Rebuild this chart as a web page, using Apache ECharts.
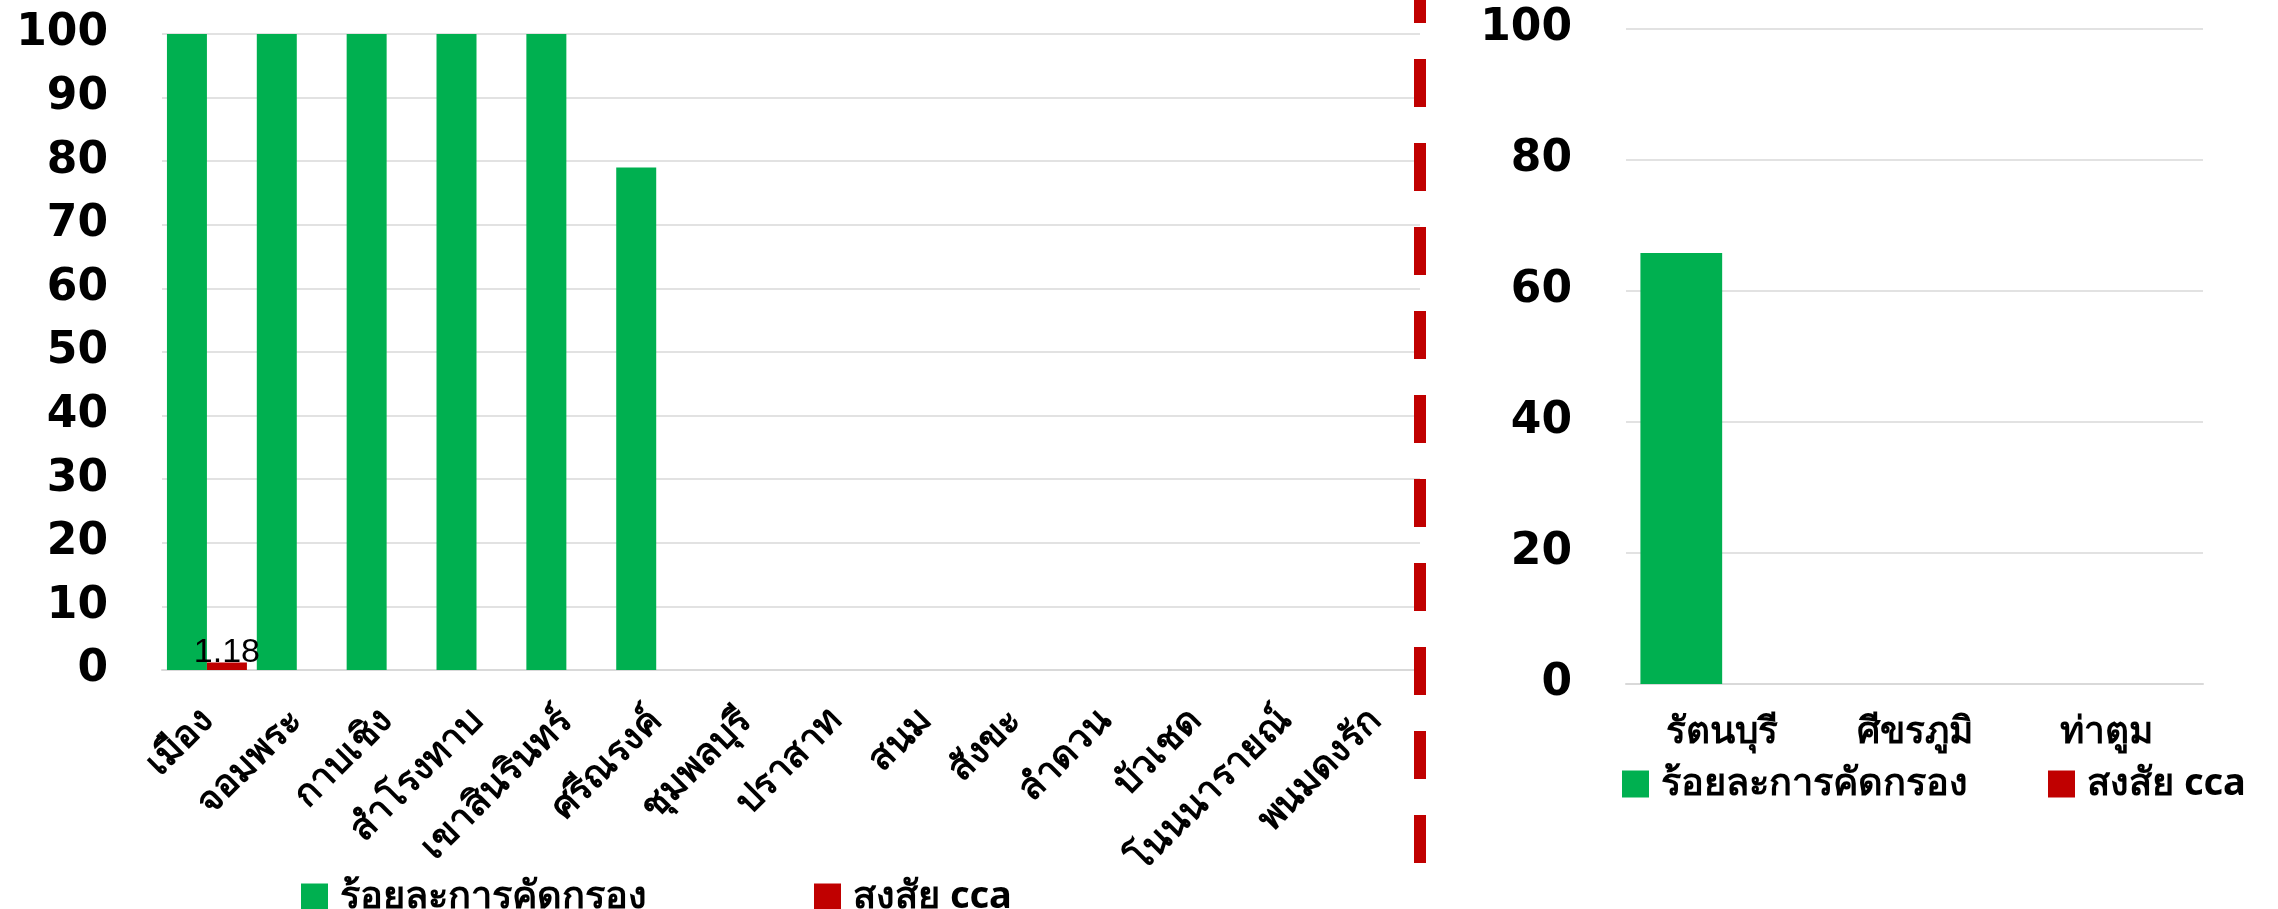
<!DOCTYPE html>
<html>
<head>
<meta charset="utf-8">
<script src="https://cdn.jsdelivr.net/npm/echarts@6/dist/echarts.min.js"></script>
<style>
html,body{margin:0;padding:0;background:#fff;}
#main{width:2278px;height:909px;}
</style>
</head>
<body>
<div id="main"></div>
<script>
// ---- data ----
const leftCategories = ['เมือง','จอมพระ','กาบเชิง','สำโรงทาบ','เขาสินรินทร์','ศรีณรงค์','ชุมพลบุรี','ปราสาท','สนม','สังขะ','ลำดวน','บัวเชด','โนนนารายณ์','พนมดงรัก'];
const leftScreening = [100,100,100,100,100,79,null,null,null,null,null,null,null,null];
const leftSuspectCCA = [1.18,null,null,null,null,null,null,null,null,null,null,null,null,null];
const rightCategories = ['รัตนบุรี','ศีขรภูมิ','ท่าตูม'];
const rightScreening = [65.8,null,null];
const rightSuspectCCA = [null,null,null];
const seriesNames = ['ร้อยละการคัดกรอง','สงสัย cca'];
const leftTicks = [0,10,20,30,40,50,60,70,80,90,100];
const rightTicks = [0,20,40,60,80,100];

const GREEN = '#00B050', RED = '#C00000';
const numFont = {fontFamily:'DejaVu Sans', fontWeight:'bold', fontSize:44, color:'#000'};
const catFont = {fontFamily:'Noto Sans, DejaVu Sans, sans-serif', fontWeight:'bold', fontSize:37, color:'#000'};
const legFont = {fontFamily:'Noto Sans, DejaVu Sans, sans-serif', fontWeight:'bold', fontSize:38, color:'#000'};

const chart = echarts.init(document.getElementById('main'), null, {renderer:'canvas'});
chart.setOption({
  animation:false,
  backgroundColor:'#fff',
  color:[GREEN, RED],
  grid:[
    {left:162, right:858, top:34, bottom:239, containLabel:false},
    {left:1626, right:75, top:29, bottom:225, containLabel:false}
  ],
  xAxis:[
    {type:'category', gridIndex:0, data:leftCategories,
     axisLine:{lineStyle:{color:'#D9D9D9', width:2}}, axisTick:{show:false},
     axisLabel:Object.assign({rotate:45, interval:0, margin:45}, catFont)},
    {type:'category', gridIndex:1, data:rightCategories,
     axisLine:{lineStyle:{color:'#D9D9D9', width:2}}, axisTick:{show:false},
     axisLabel:Object.assign({interval:0, margin:30}, catFont)}
  ],
  yAxis:[
    {type:'value', gridIndex:0, min:leftTicks[0], max:leftTicks[leftTicks.length-1], interval:leftTicks[1]-leftTicks[0],
     axisLine:{show:false}, axisTick:{show:false},
     splitLine:{lineStyle:{color:'#D9D9D9', width:1.5}},
     axisLabel:Object.assign({margin:54, padding:[0,0,18,0]}, numFont)},
    {type:'value', gridIndex:1, min:rightTicks[0], max:rightTicks[rightTicks.length-1], interval:rightTicks[1]-rightTicks[0],
     axisLine:{show:false}, axisTick:{show:false},
     splitLine:{lineStyle:{color:'#D9D9D9', width:1.5}},
     axisLabel:Object.assign({margin:54, padding:[0,0,14,0]}, numFont)}
  ],
  legend:[
    {left:296, top:873, itemWidth:27, itemHeight:27, itemGap:167, icon:'rect',
     data:seriesNames, textStyle:Object.assign({padding:[0,0,0,7]}, legFont)},
    {left:1617, top:760, itemWidth:27, itemHeight:27, itemGap:80, icon:'rect',
     data:seriesNames, textStyle:Object.assign({padding:[0,0,0,7]}, legFont)}
  ],
  series:[
    {name:seriesNames[0], type:'bar', xAxisIndex:0, yAxisIndex:0, data:leftScreening,
     barGap:'0%', barCategoryGap:'11%', itemStyle:{color:GREEN}},
    {name:seriesNames[1], type:'bar', xAxisIndex:0, yAxisIndex:0, data:leftSuspectCCA,
     barGap:'0%', barCategoryGap:'11%', itemStyle:{color:RED},
     label:{show:true, position:'top', distance:-7, fontFamily:'Liberation Sans', fontSize:34, color:'#000',
            formatter:p => (p.value ? String(p.value) : '')}},
    {name:seriesNames[0], type:'bar', xAxisIndex:1, yAxisIndex:1, data:rightScreening,
     barGap:'0%', barCategoryGap:'15%', itemStyle:{color:GREEN}},
    {name:seriesNames[1], type:'bar', xAxisIndex:1, yAxisIndex:1, data:rightSuspectCCA,
     barGap:'0%', barCategoryGap:'15%', itemStyle:{color:RED},
     label:{show:true, position:'top', distance:-7, fontFamily:'Liberation Sans', fontSize:34, color:'#000',
            formatter:p => (p.value ? String(p.value) : '')}}
  ],
  graphic:[
    {type:'line', silent:true, z:100,
     shape:{x1:1420, y1:0, x2:1420, y2:864},
     style:{stroke:RED, lineWidth:12, lineDash:[48,36], lineDashOffset:25}}
  ]
});
</script>
</body>
</html>
